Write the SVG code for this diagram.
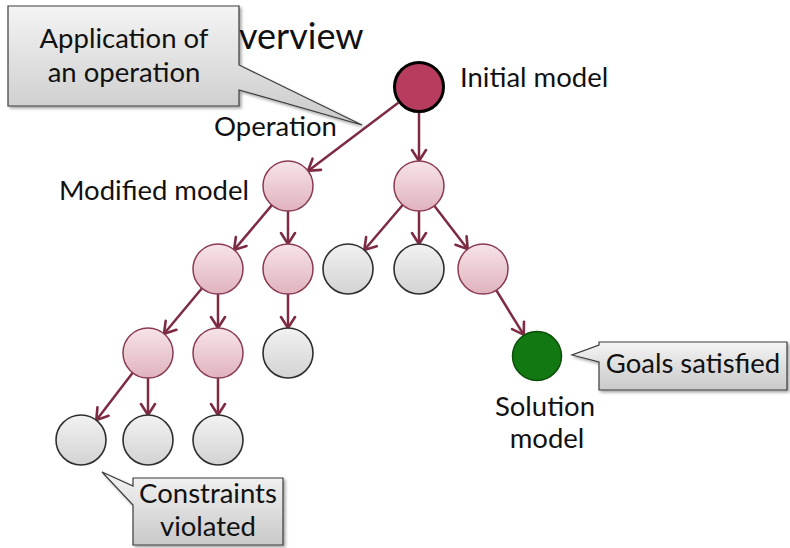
<svg xmlns="http://www.w3.org/2000/svg" width="790" height="548" viewBox="0 0 790 548">
  <defs>
    <linearGradient id="pinkFill" x1="0" y1="0" x2="0" y2="1">
      <stop offset="0" stop-color="#f7e4e8"/>
      <stop offset="1" stop-color="#e0b3be"/>
    </linearGradient>
    <linearGradient id="grayFill" x1="0" y1="0" x2="0" y2="1">
      <stop offset="0" stop-color="#f2f2f2"/>
      <stop offset="1" stop-color="#d3d3d3"/>
    </linearGradient>
    <linearGradient id="calloutFill" x1="0" y1="0" x2="0" y2="1">
      <stop offset="0" stop-color="#f4f4f4"/>
      <stop offset="1" stop-color="#c9c9c9"/>
    </linearGradient>
    <filter id="softShadow" x="-10%" y="-10%" width="130%" height="140%">
      <feDropShadow dx="2" dy="2" stdDeviation="1.5" flood-color="#000" flood-opacity="0.35"/>
    </filter>
    <marker id="arrowHead" viewBox="-13 -9 15 18" markerWidth="15" markerHeight="18" refX="0" refY="0" orient="auto" markerUnits="userSpaceOnUse">
      <path d="M-11,-7 L0,0 L-11,7" fill="none" stroke="#7d2b42" stroke-width="2.6" stroke-linejoin="miter" stroke-linecap="round"/>
    </marker>
  </defs>
  <style>
    text { font-family: Lato, "Liberation Sans", sans-serif; fill: #111; }
    .lbl { font-size: 27.5px; }
    .title { font-size: 36px; }
    .pink { fill: url(#pinkFill); stroke: #8a3a52; stroke-width: 1.5; }
    .gray { fill: url(#grayFill); stroke: #2e2e2e; stroke-width: 1.6; }
    .edge { stroke: #7d2b42; stroke-width: 2.5; fill: none; marker-end: url(#arrowHead); }
    .callout { fill: url(#calloutFill); stroke: #3c3c3c; stroke-width: 1.2; filter: url(#softShadow); }
  </style>

  <rect width="790" height="548" fill="#fff"/>

  <!-- slide title, its first letter sits under the callout -->
  <text class="title" x="239" y="49">verview</text>

  <!-- connectors -->
  <g id="connectors">
    <line class="edge" x1="398.3" y1="102.7" x2="308.0" y2="170.9"/>
    <line class="edge" x1="419" y1="113" x2="419" y2="161"/>
    <line class="edge" x1="271.9" y1="205.1" x2="234.1" y2="249.9"/>
    <line class="edge" x1="288" y1="211" x2="288" y2="244"/>
    <line class="edge" x1="402.7" y1="205.0" x2="364.3" y2="250.0"/>
    <line class="edge" x1="419" y1="211" x2="419" y2="244"/>
    <line class="edge" x1="434.3" y1="205.8" x2="467.7" y2="249.2"/>
    <line class="edge" x1="202.0" y1="288.2" x2="164.0" y2="333.8"/>
    <line class="edge" x1="218" y1="294" x2="218" y2="328"/>
    <line class="edge" x1="288" y1="294" x2="288" y2="328"/>
    <line class="edge" x1="496.2" y1="290.2" x2="523.8" y2="334.8"/>
    <line class="edge" x1="132.7" y1="372.8" x2="96.3" y2="420.2"/>
    <line class="edge" x1="148" y1="378" x2="148" y2="415"/>
    <line class="edge" x1="218" y1="378" x2="218" y2="415"/>
  </g>

  <!-- nodes -->
  <g id="initial-model">
    <circle cx="419" cy="87" r="24.5" fill="#b73c5e" stroke="#000" stroke-width="3"/>
    <text class="lbl" x="460" y="87">Initial model</text>
  </g>
  <g id="modified-model">
    <circle class="pink" cx="288" cy="186" r="25"/>
    <text class="lbl" x="249" y="200" text-anchor="end">Modified model</text>
  </g>
  <g id="node-b"><circle class="pink" cx="419" cy="186" r="25"/></g>
  <g id="node-c"><circle class="pink" cx="218" cy="269" r="25"/></g>
  <g id="node-d"><circle class="pink" cx="288" cy="269" r="25"/></g>
  <g id="node-e"><circle class="gray" cx="348" cy="269" r="25"/></g>
  <g id="node-f"><circle class="gray" cx="419" cy="269" r="25"/></g>
  <g id="node-g"><circle class="pink" cx="483" cy="269" r="25"/></g>
  <g id="node-h"><circle class="pink" cx="148" cy="353" r="25"/></g>
  <g id="node-i"><circle class="pink" cx="218" cy="353" r="25"/></g>
  <g id="node-j"><circle class="gray" cx="288" cy="353" r="25"/></g>
  <g id="solution-model">
    <circle cx="537" cy="356" r="24.5" fill="#127812" stroke="#0b4f0b" stroke-width="1.5"/>
    <text class="lbl" x="545" y="416" text-anchor="middle">Solution</text>
    <text class="lbl" x="547" y="448" text-anchor="middle">model</text>
  </g>
  <g id="node-l"><circle class="gray" cx="81" cy="440" r="25"/></g>
  <g id="node-m"><circle class="gray" cx="148" cy="440" r="25"/></g>
  <g id="node-n"><circle class="gray" cx="218" cy="440" r="25"/></g>

  <!-- edge label -->
  <g id="operation-label">
    <text class="lbl" x="214" y="136">Operation</text>
  </g>

  <!-- callouts -->
  <g id="callout-operation">
    <path class="callout" d="M8,6 H239 V65 L362,125 L239,90 V106 H8 Z"/>
    <text class="lbl" x="124" y="48" text-anchor="middle">Application of</text>
    <text class="lbl" x="124" y="82" text-anchor="middle">an operation</text>
  </g>
  <g id="callout-goals">
    <path class="callout" d="M599,342 H787 V390 H599 V362 L572,355 L599,345 Z"/>
    <text class="lbl" x="693" y="373" text-anchor="middle">Goals satisfied</text>
  </g>
  <g id="callout-constraints">
    <path class="callout" d="M133,478 H283 V545 H133 V505 L102,472 L133,486 Z"/>
    <text class="lbl" x="208" y="503" text-anchor="middle">Constraints</text>
    <text class="lbl" x="208" y="536" text-anchor="middle">violated</text>
  </g>
</svg>
